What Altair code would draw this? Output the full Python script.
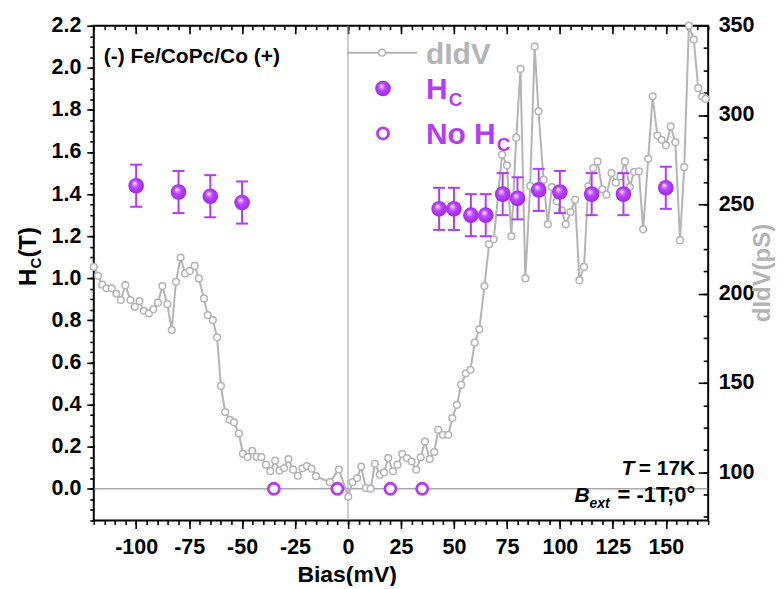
import altair as alt
import pandas as pd

# ---------------- data ----------------
didv_bias = [-120, -118, -116, -114, -111.5, -109.4, -107.2, -105.1, -102.7, -100.7,
             -98.4, -96.4, -94.0, -91.9, -89.7, -87.6, -85.3, -83.2, -81.2, -79.0,
             -76.9, -74.7, -72.4, -70.4, -68.0, -66.2, -63.8, -61.8, -60.0, -58.0,
             -55.8, -53.8, -51.5, -49.6, -47.4, -45.2, -43.1, -40.9, -38.7, -36.7,
             -34.4, -32.4, -30.2, -28.1, -25.9, -23.7, -21.5, -19.4, -17.2, -15.1,
             -8.6, -4.3, 0.1, 2.1, 4.3, 6.2, 8.4, 10.7, 12.7, 15.0,
             17.0, 19.0, 21.2, 23.4, 25.6, 27.8, 30.0, 32.2, 34.3, 36.3,
             38.5, 40.7, 42.6, 44.8, 47.3, 49.2, 51.4, 53.4, 55.6, 57.8,
             59.8, 62.0, 64.4, 66.6, 68.8, 72.7, 75.0, 77.1, 79.4, 81.4,
             83.7, 86.0, 88.1, 89.9, 92.3, 94.3, 96.2, 98.5, 100.9, 102.8,
             105.0, 107.2, 109.2, 111.4, 113.4, 115.8, 117.8, 120.0, 122.0, 124.4,
             126.4, 128.6, 130.7, 133.0, 135.0, 137.3, 139.3, 141.7, 143.8, 146.0,
             148.0, 150.1, 152.3, 154.5, 156.7, 158.7, 160.9, 163.2, 165.3, 167.2,
             168.8]
didv_ps = [215, 210, 205, 203, 203, 200, 196.4, 204.7, 196.4, 192.6,
           195.8, 190.4, 188.9, 191.2, 194.9, 204.2, 194.1, 179.6, 206.6, 220.2,
           211.3, 212.7, 215.5, 208.5, 197.3, 188, 185.2, 175.5, 148.3, 133.7,
           129.3, 127.9, 121.6, 110.3, 108.5, 112, 108.6, 108.5, 104.2, 100.6,
           106.5, 101, 102.3, 107.4, 101.4, 98, 102.2, 103.4, 102, 97.8,
           94.4, 101.5, 86.2, 94.5, 96.7, 103.2, 91.2, 90.8, 104.7, 98.6,
           99.9, 107.9, 100.5, 104.2, 110.2, 107.9, 106, 101.4, 108.3, 117.2,
           107.4, 111.3, 123.7, 120.9, 120.9, 130.3, 137.7, 148.9, 155.4, 157.3,
           172.5, 180, 204.2, 227.7, 230.4, 277.8, 271.8, 232.1, 287.3, 325.8,
           208.5, 260.3, 338.4, 302.1, 263.8, 238.8, 259.7, 251.7, 246.6, 238.8,
           245.7, 252.6, 207.5, 215, 260.1, 270.3, 274, 258.4, 255.4, 267.5,
           262.1, 265.6, 274, 259.7, 268.1, 268.4, 236, 275.5, 310.5, 288.5,
           286.1, 283, 293.6, 284.8, 229.9, 270.8, 350, 342.2, 315, 310.3,
           309]

hc_bias = [-100, -80, -65, -50, 43, 50, 58, 65, 73, 80, 90, 100, 115, 130, 150]
hc_val = [1.44, 1.41, 1.39, 1.36, 1.33, 1.33, 1.30, 1.30, 1.40, 1.38, 1.42, 1.41, 1.40, 1.40, 1.43]
hc_err = [0.10, 0.10, 0.10, 0.10, 0.10, 0.10, 0.10, 0.10, 0.10, 0.10, 0.10, 0.10, 0.10, 0.10, 0.10]

nohc_bias = [-35, -5, 20, 35]
nohc_val = [0, 0, 0, 0]

x_major = [-100, -75, -50, -25, 0, 25, 50, 75, 100, 125, 150]
x_minor = list(range(-120, 171, 5))
yl_major = [0.0, 0.2, 0.4, 0.6, 0.8, 1.0, 1.2, 1.4, 1.6, 1.8, 2.0, 2.2]
yl_minor = [round(i * 0.05, 2) for i in range(-3, 45)]
yr_major = [100, 150, 200, 250, 300, 350]
yr_minor = [75 + 12.5 * i for i in range(23)]

# ---------------- style ----------------
FONT = "Liberation Sans"
PURPLE = "#b43cf6"
GRAY = "#b4b4b4"
W, H = 616, 496
GRAD = {"gradient": "radial", "x1": 0.38, "y1": 0.32, "r1": 0.0,
        "x2": 0.5, "y2": 0.5, "r2": 0.55,
        "stops": [{"offset": 0.0, "color": "#ffffff"},
                  {"offset": 0.14, "color": "#e6b0ff"},
                  {"offset": 0.42, "color": "#bb45ff"},
                  {"offset": 1.0, "color": "#9c24e8"}]}

xs = alt.Scale(domain=[-120, 170], nice=False, zero=False)
ysl = alt.Scale(domain=[-0.15, 2.2], nice=False, zero=False)
ysr = alt.Scale(domain=[73, 350], nice=False, zero=False)

ax = dict(domain=False, grid=False, tickColor="black", tickWidth=1.6, title=None,
          labelFont=FONT, labelFontWeight="bold", labelFontSize=21.5, labelColor="black")

x_bot_major = alt.Axis(orient="bottom", values=x_major, tickSize=8, labelPadding=8,
                       labelExpr="'' + datum.value", **ax)
x_bot_minor = alt.Axis(orient="bottom", values=x_minor, tickSize=4, labels=False, **ax)
x_top_major = alt.Axis(orient="top", values=x_major, tickSize=8, offset=-8, labels=False, **ax)
x_top_minor = alt.Axis(orient="top", values=x_minor, tickSize=4, offset=-4, labels=False, **ax)
y_l_major = alt.Axis(orient="left", values=yl_major, tickSize=7, labelPadding=6,
                     labelExpr="format(datum.value, '.1f')", **ax)
y_l_minor = alt.Axis(orient="left", values=yl_minor, tickSize=4, labels=False, **ax)
y_r_major = alt.Axis(orient="right", values=yr_major, tickSize=10, offset=-10, labelPadding=10,
                     labelExpr="'' + datum.value", **ax)
y_r_minor = alt.Axis(orient="right", values=yr_minor, tickSize=5, offset=-5, labels=False, **ax)

df_didv = pd.DataFrame({"bias": didv_bias, "ps": didv_ps})
df_hc = pd.DataFrame({"bias": hc_bias, "hc": hc_val, "err": hc_err})
df_hc["lo"] = df_hc["hc"] - df_hc["err"]
df_hc["hi"] = df_hc["hc"] + df_hc["err"]
df_nohc = pd.DataFrame({"bias": nohc_bias, "hc": nohc_val})

hzero = alt.Chart(pd.DataFrame({"h": [0]})).mark_rule(color="#808080", strokeWidth=1).encode(
    y=alt.Y("h:Q", scale=ysl, axis=None))
vzero = alt.Chart(pd.DataFrame({"b": [0]})).mark_rule(color="#9a9a9a", strokeWidth=1).encode(
    x=alt.X("b:Q", scale=xs, axis=None))

line = alt.Chart(df_didv).mark_line(color=GRAY, strokeWidth=2).encode(
    x=alt.X("bias:Q", scale=xs, axis=x_bot_major),
    y=alt.Y("ps:Q", scale=ysr, axis=y_r_major))
pts = alt.Chart(df_didv).mark_point(shape="circle", size=45, filled=True, fill="white",
                                    stroke=GRAY, strokeWidth=1.5, opacity=1).encode(
    x=alt.X("bias:Q", scale=xs, axis=x_bot_minor),
    y=alt.Y("ps:Q", scale=ysr, axis=y_r_minor))

ebar = alt.Chart(df_hc).mark_rule(color=PURPLE, strokeWidth=2).encode(
    x=alt.X("bias:Q", scale=xs, axis=x_top_major),
    y=alt.Y("lo:Q", scale=ysl, axis=y_l_major),
    y2="hi:Q")
caps = alt.Chart(df_hc).transform_fold(["lo", "hi"], as_=["k", "v"]).mark_tick(
    orient="horizontal", size=12, thickness=2, color=PURPLE, opacity=1).encode(
    x=alt.X("bias:Q", scale=xs, axis=x_top_minor),
    y=alt.Y("v:Q", scale=ysl, axis=y_l_minor))
hcp = alt.Chart(df_hc).mark_circle(size=245, fill=GRAD, opacity=1).encode(
    x=alt.X("bias:Q", scale=xs, axis=None),
    y=alt.Y("hc:Q", scale=ysl, axis=None))
nohc = alt.Chart(df_nohc).mark_point(shape="circle", size=125, filled=True, fill="white",
                                     stroke=PURPLE, strokeWidth=2.8, opacity=1).encode(
    x=alt.X("bias:Q", scale=xs, axis=None),
    y=alt.Y("hc:Q", scale=ysl, axis=None))


def txt(s, x, y, size, color="black", style="normal", align="left", angle=0):
    return alt.Chart(pd.DataFrame({"t": [s]})).mark_text(
        align=align, baseline="alphabetic", font=FONT, fontSize=size, fontWeight="bold",
        fontStyle=style, color=color, angle=angle).encode(
        text="t:N", x=alt.value(x), y=alt.value(y))


one = pd.DataFrame({"v": [0]})
leg_line = alt.Chart(one).mark_rule(color=GRAY, strokeWidth=2).encode(
    x=alt.value(254), x2=alt.value(324), y=alt.value(27))
leg_pt = alt.Chart(one).mark_point(shape="circle", size=45, filled=True, fill="white",
                                   stroke=GRAY, strokeWidth=1.5, opacity=1).encode(
    x=alt.value(289), y=alt.value(27))
leg_hc = alt.Chart(one).mark_circle(size=245, fill=GRAD, opacity=1).encode(
    x=alt.value(290), y=alt.value(63))
leg_nohc = alt.Chart(one).mark_point(shape="circle", size=125, filled=True, fill="white",
                                     stroke=PURPLE, strokeWidth=2.8, opacity=1).encode(
    x=alt.value(290), y=alt.value(108))

texts = [
    txt("dIdV", 333, 38, 30, GRAY),
    txt("H", 333, 73.5, 30, PURPLE),
    txt("C", 356, 81, 19, PURPLE),
    txt("No H", 333, 118.5, 30, PURPLE),
    txt("C", 404, 126, 19, PURPLE),
    txt("(-) Fe/CoPc/Co (+)", 10, 37.5, 21),
    txt("T", 542, 450, 21, style="italic", align="right"),
    txt("= 17K", 603, 450, 21, align="right"),
    txt("B", 482, 478, 21, style="italic"),
    txt("ext", 497, 484, 14, style="italic"),
    txt("= -1T;0°", 603, 478, 22, align="right"),
    txt("Bias(mV)", 254, 558, 23, align="center"),
    txt("H", -58, 261, 24, angle=270),
    txt("C", -53, 243.5, 15, angle=270),
    txt("(T)", -58, 232.5, 24, angle=270),
    txt("dIdV(pS)", 678, 248, 24, GRAY, align="center", angle=270),
]

chart = alt.layer(
    hzero, vzero, line, pts, ebar, caps, hcp, nohc,
    leg_line, leg_pt, leg_hc, leg_nohc, *texts
).resolve_scale(y="independent").resolve_axis(x="independent", y="independent").properties(
    width=W, height=H,
    autosize=alt.AutoSizeParams(type="none"),
    padding={"left": 86, "top": 17, "right": 68, "bottom": 65},
    background="white",
).configure_view(stroke="black", strokeWidth=2)

chart.save("out.html", embed_options={"renderer": "svg", "actions": False})
